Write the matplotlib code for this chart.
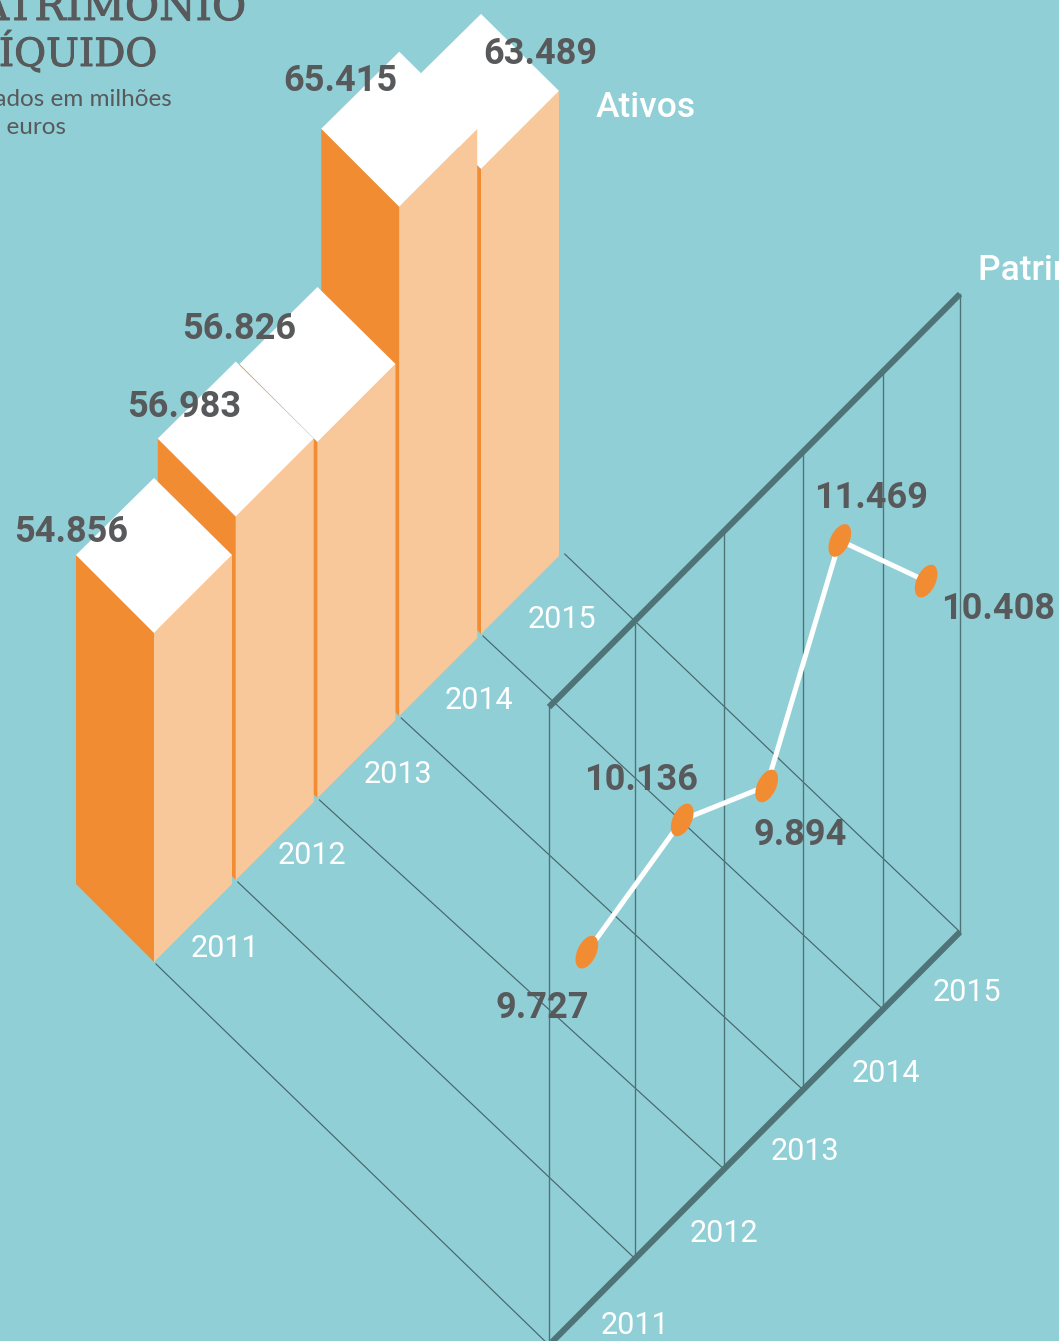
import numpy as np
import matplotlib
matplotlib.use("Agg")
import matplotlib.pyplot as plt
import matplotlib.patheffects as pe
from matplotlib.patches import Polygon, Ellipse

years = ["2011", "2012", "2013", "2014", "2015"]
# printed labels
assets_labels = ["54.856", "56.983", "56.826", "65.415", "63.489"]
equity_labels = ["9.727", "10.136", "9.894", "11.469", "10.408"]
# values as drawn in the picture (marks are not quite to scale with the labels)
assets_drawn = [54.86, 56.86, 56.43, 65.34, 62.77]
equity_drawn = [9.77, 10.17, 9.61, 11.50, 10.10]

BG = "#91CFD7"
ORANGE = "#F28C33"
PEACH = "#F8C79A"
DARK = "#58595B"
AXIS = "#4F7478"
THIN = "#47666B"

# scales and layout, in pixels
BAR_STEP = 81.75
BAR_W = 78
BAR_PX = 17.2
BAR_BASE = 35.73
EQ_PX = 91.0
EQ_BASE = 5.87
PLANE_H = 638
plane_x = [549, 635, 724, 803, 883, 960]
band_pos = [0.44, 1.53, 2.54, 3.46, 4.56]


def bar_foot(i):
    return 154 + BAR_STEP * i, 962 - 82 * i


def plane_y(x):
    return 932 + (960 - x) * 1.005


fig = plt.figure(figsize=(10.59, 13.41), dpi=100, facecolor=BG)
ax = fig.add_axes([0, 0, 1, 1])
ax.set_xlim(0, 1059)
ax.set_ylim(1341, 0)
ax.axis("off")

# depth lines between the two charts
for i, xe in enumerate(plane_x):
    xs, ys = bar_foot(i)
    ax.plot([xs + 2, xe], [ys + 2, plane_y(xe)], color=THIN, lw=0.85, zorder=1)

# bars, back to front
for i in range(4, -1, -1):
    x, y = bar_foot(i)
    top = y - (assets_drawn[i] - BAR_BASE) * BAR_PX
    z = 2 + (4 - i)
    ax.add_patch(Polygon([(x - BAR_W, y - BAR_W), (x, y), (x, top), (x - BAR_W, top - BAR_W)],
                         fc=ORANGE, ec="none", zorder=z))
    ax.add_patch(Polygon([(x, y), (x + BAR_W, y - BAR_W), (x + BAR_W, top - BAR_W), (x, top)],
                         fc=PEACH, ec="none", zorder=z))
    ax.add_patch(Polygon([(x, top), (x + BAR_W, top - BAR_W), (x, top - 2 * BAR_W + 1), (x - BAR_W, top - BAR_W)],
                         fc="white", ec="none", zorder=z))

# back plane
for x in plane_x:
    ax.plot([x, x], [plane_y(x), plane_y(x) - PLANE_H], color=AXIS, lw=1.0, zorder=8)
for off in [0, PLANE_H]:
    ax.plot([plane_x[0], plane_x[-1]], [plane_y(plane_x[0]) - off, plane_y(plane_x[-1]) - off],
            color=AXIS, lw=4.4, solid_capstyle="butt", zorder=9)

# equity line
eq_x = np.interp(band_pos, range(len(plane_x)), plane_x)
eq_y = [plane_y(x) - (v - EQ_BASE) * EQ_PX for x, v in zip(eq_x, equity_drawn)]
ax.plot(eq_x, eq_y, color="white", lw=3.6, zorder=10)
for x, y in zip(eq_x, eq_y):
    ax.add_patch(Ellipse((x, y), 35, 19, angle=-65, fc=ORANGE, ec="none", zorder=11))

# text
num_font = dict(family="Roboto", fontweight="bold", fontsize=26, color=DARK, ha="center", va="center", zorder=20)
year_font = dict(family="Roboto", fontweight="normal", fontsize=22, color="white", ha="center", va="center", zorder=20)
name_font = dict(family="Roboto", fontweight="medium", fontsize=25.5, color="white", va="center", zorder=20)

assets_lab_pos = [(71, 532), (184, 407), (239, 329), (340, 81), (540, 54)]
equity_lab_pos = [(542, 1008), (641, 780), (800, 835), (871, 498), (998, 609)]
year_pos_a = [(225, 948), (312, 855), (398, 774), (479, 700), (562, 619)]
year_pos_b = [(635, 1326), (724, 1234), (805, 1152), (886, 1073), (967, 992)]

for lab, p in zip(assets_labels, assets_lab_pos):
    ax.text(p[0], p[1], lab, **num_font)
for lab, p in zip(equity_labels, equity_lab_pos):
    ax.text(p[0], p[1], lab, **num_font)
for lab, p, q in zip(years, year_pos_a, year_pos_b):
    ax.text(p[0], p[1], lab, **year_font)
    ax.text(q[0], q[1], lab, **year_font)

ax.text(646, 107, "Ativos", ha="center", **name_font)
ax.text(978, 270, "Patrimônio líquido", ha="left", **name_font)

# title is a bit heavier than the regular serif, thicken it slightly
thick = [pe.withStroke(linewidth=0.7, foreground=DARK)]
ax.text(246, 20, "PATRIMÔNIO", family="DejaVu Serif", fontsize=30, color=DARK, ha="right", va="baseline", path_effects=thick)
ax.text(157, 66, "LÍQUIDO", family="DejaVu Serif", fontsize=28, color=DARK, ha="right", va="baseline", path_effects=thick)
ax.text(172, 106, "Dados em milhões", family="Lato", fontsize=17.5, color=DARK, ha="right", va="baseline")
ax.text(66, 134, "de euros", family="Lato", fontsize=17.5, color=DARK, ha="right", va="baseline")

fig.savefig("out.png", dpi=100, facecolor=BG)
